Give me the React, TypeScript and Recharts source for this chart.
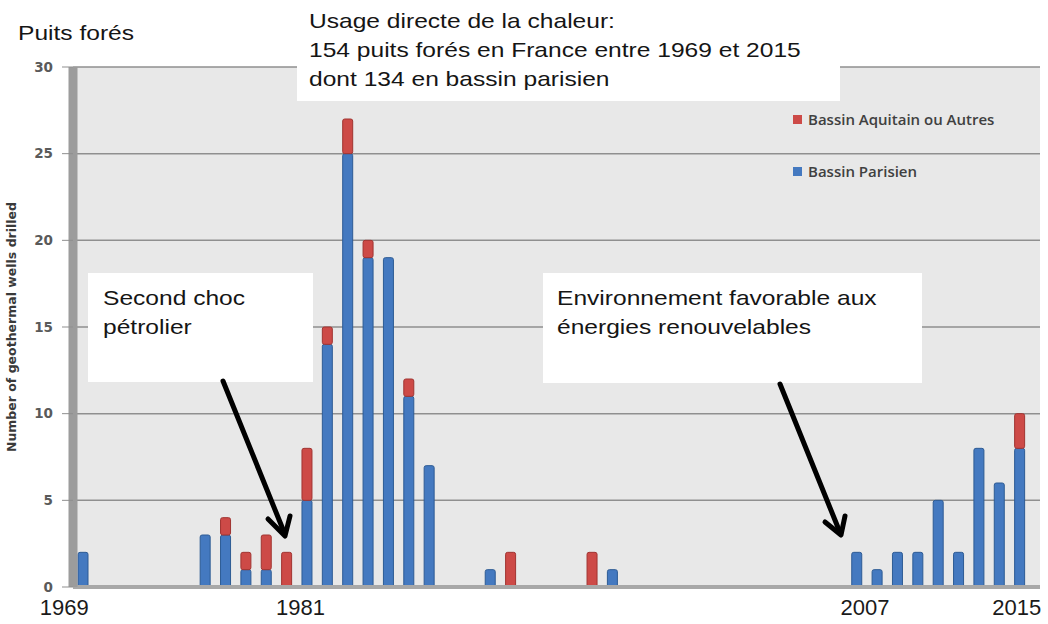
import React from 'react';
import { Bar, BarChart, CartesianGrid, Legend, XAxis, YAxis } from 'recharts';

// wells drilled per year
const years = [
  1969, 1970, 1971, 1972, 1973, 1974, 1975, 1976, 1977, 1978, 1979, 1980, 1981, 1982, 1983, 1984,
  1985, 1986, 1987, 1988, 1989, 1990, 1991, 1992, 1993, 1994, 1995, 1996, 1997, 1998, 1999, 2000,
  2001, 2002, 2003, 2004, 2005, 2006, 2007, 2008, 2009, 2010, 2011, 2012, 2013, 2014, 2015,
];
const parisien = [
  2, 0, 0, 0, 0, 0, 3, 3, 1, 1, 0, 5, 14, 25, 19, 19,
  11, 7, 0, 0, 1, 0, 0, 0, 0, 0, 1, 0, 0, 0, 0, 0,
  0, 0, 0, 0, 0, 0, 2, 1, 2, 2, 5, 2, 8, 6, 8,
];
const aquitain = [
  0, 0, 0, 0, 0, 0, 0, 1, 1, 2, 2, 3, 1, 2, 1, 0,
  1, 0, 0, 0, 0, 2, 0, 0, 0, 2, 0, 0, 0, 0, 0, 0,
  0, 0, 0, 0, 0, 0, 0, 0, 0, 0, 0, 0, 0, 0, 2,
];
const yTicks = [0, 5, 10, 15, 20, 25, 30];
const labelledYears = [1969, 1981, 2007, 2015];

const data = years.map((year, i) => ({ year, parisien: parisien[i], aquitain: aquitain[i] }));

const blue = '#4479c0';
const blueEdge = '#2d5b94';
const red = '#cd4a47';
const redEdge = '#a13431';
const sans = '"Liberation Sans", Arial, sans-serif';

// the year labels sit a little off their columns in the original
const labelShift: Record<number, number> = { 1969: -19, 1981: -27, 2007: 8, 2015: -3 };

function column(fill: string, stroke: string) {
  return (props: { x?: number; y?: number; width?: number; height?: number }) => {
    const { x = 0, y = 0, width = 0, height = 0 } = props;
    if (!height || height <= 0) return <g />;
    return <rect x={x} y={y} width={width} height={height} rx={2} fill={fill} stroke={stroke} strokeWidth={1} />;
  };
}

function YearTick(props: { x?: number; y?: number; payload?: { value: number } }) {
  const { x = 0, y = 0, payload } = props;
  const v = payload?.value ?? 0;
  if (!labelledYears.includes(v)) return <g />;
  return (
    <text x={x + (labelShift[v] ?? 0)} y={y} dy={20} textAnchor="middle" fontSize={22} fontFamily={sans} fill="#1a1a1a">
      {v}
    </text>
  );
}

function LegendBox() {
  const items = [
    { label: 'Bassin Aquitain ou Autres', color: red },
    { label: 'Bassin Parisien', color: blue },
  ];
  return (
    <div style={{ fontFamily: '"Open Sans", sans-serif', fontWeight: 600, fontSize: 15, color: '#404040' }}>
      {items.map((it) => (
        <div key={it.label} style={{ display: 'flex', alignItems: 'center', height: 20, marginBottom: 32 }}>
          <span style={{ width: 9, height: 9, background: it.color, marginRight: 6, display: 'inline-block' }} />
          {it.label}
        </div>
      ))}
    </div>
  );
}

const note: React.CSSProperties = {
  position: 'absolute',
  background: '#ffffff',
  fontFamily: sans,
  fontSize: 21,
  lineHeight: '29px',
  color: '#151515',
  boxSizing: 'border-box',
  whiteSpace: 'nowrap',
};

// the annotation lettering is stretched sideways in the original
const wide: React.CSSProperties = { display: 'inline-block', transform: 'scaleX(1.17)', transformOrigin: 'left top' };

export default function App() {
  return (
    <div style={{ position: 'absolute', left: 0, top: 0, width: 1048, height: 624, background: '#fff', overflow: 'hidden' }}>
      <BarChart width={1048} height={624} data={data} margin={{ top: 67, right: 8, bottom: 7, left: 0 }} barSize={10}>
        <CartesianGrid vertical={false} fill="#e8e8e8" stroke="#8f8f8f" strokeWidth={1.5} />
        <XAxis
          dataKey="year"
          interval={0}
          height={30}
          padding={{ left: 0, right: 10 }}
          tickLine={false}
          axisLine={{ stroke: '#a8a8a8', strokeWidth: 4 }}
          tick={<YearTick />}
        />
        <YAxis
          width={73}
          domain={[0, 30]}
          ticks={yTicks}
          interval={0}
          tickSize={11}
          tickMargin={9}
          tickLine={{ stroke: '#8f8f8f' }}
          axisLine={{ stroke: '#9c9c9c', strokeWidth: 9 }}
          tick={{ fill: '#5a5a5a', fontSize: 13.5, fontWeight: 700, fontFamily: '"DejaVu Sans", sans-serif' }}
          label={{
            value: 'Number of geothermal wells drilled',
            angle: -90,
            position: 'insideLeft',
            offset: 0,
            dx: 12,
            dy: 0,
            style: { textAnchor: 'middle', fill: '#3a3a3a', fontSize: 12.5, fontWeight: 700, fontFamily: '"DejaVu Sans", sans-serif' },
          }}
        />
        <Legend
          layout="vertical"
          align="center"
          verticalAlign="middle"
          wrapperStyle={{ left: 793, top: 109, width: 250 }}
          content={<LegendBox />}
        />
        <Bar dataKey="parisien" name="Bassin Parisien" stackId="w" fill={blue} shape={column(blue, blueEdge)} isAnimationActive={false} />
        <Bar dataKey="aquitain" name="Bassin Aquitain ou Autres" stackId="w" fill={red} shape={column(red, redEdge)} isAnimationActive={false} />
      </BarChart>

      <div style={{ position: 'absolute', left: 18, top: 21, fontFamily: sans, fontSize: 21, color: '#151515' }}>
        <span style={wide}>Puits forés</span>
      </div>

      <div style={{ ...note, left: 297, top: 0, width: 543, height: 101, padding: '6px 0 0 12px' }}>
        <span style={wide}>
          Usage directe de la chaleur:
          <br />
          154 puits forés en France entre 1969 et 2015
          <br />
          dont 134 en bassin parisien
        </span>
      </div>

      <div style={{ ...note, left: 88, top: 273, width: 225, height: 109, padding: '10px 0 0 15px' }}>
        <span style={wide}>
          Second choc
          <br />
          pétrolier
        </span>
      </div>

      <div style={{ ...note, left: 543, top: 273, width: 379, height: 110, padding: '10px 0 0 14px' }}>
        <span style={wide}>
          Environnement favorable aux
          <br />
          énergies renouvelables
        </span>
      </div>

      <svg width={1048} height={624} style={{ position: 'absolute', left: 0, top: 0, pointerEvents: 'none' }}>
        <g stroke="#000" strokeWidth={5} fill="none" strokeLinecap="round" strokeLinejoin="round">
          <line x1={223} y1={381} x2={284} y2={532} />
          <polyline points="268,519 285,536 290,516" />
          <line x1={780} y1={384} x2={839} y2={530} />
          <polyline points="825,522 841,535 845,516" />
        </g>
      </svg>
    </div>
  );
}
